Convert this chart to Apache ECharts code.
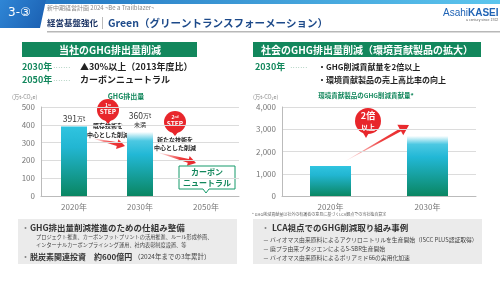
<!DOCTYPE html>
<html><head><meta charset="utf-8">
<script src="https://cdn.jsdelivr.net/npm/echarts@6/dist/echarts.min.js"></script>
<style>html,body{margin:0;padding:0;background:#fff}#c{width:500px;height:281px}</style>
</head><body><div id="c"></div>
<script>
// ---- data ----
const leftCategories = ['2020年', '2030年', '2050年'];
const leftValues = [391, 360, 0];
const leftLabels = ['391', '360', ''];
const leftYTicks = [0, 100, 200, 300, 400, 500];
const rightCategories = ['2020年', '2030年'];
const rightValues = [1350, 2700];
const rightYTicks = [0, 1000, 2000, 3000, 4000];

const F = '"Noto Sans CJK JP","Noto Sans",sans-serif';
const GREEN = '#12875c';
const chart = echarts.init(document.getElementById('c'), null, {renderer: 'canvas'});

function barGrad(fade) {
  const stops = fade
    ? [{offset: 0, color: 'rgba(255,255,255,1)'}, {offset: 0.14, color: '#4cc8e2'}, {offset: 0.35, color: '#22b8d6'}, {offset: 1, color: '#0a8662'}]
    : [{offset: 0, color: '#30c4e0'}, {offset: 0.3, color: '#22b6d2'}, {offset: 1, color: '#0a8662'}];
  return {type: 'linear', x: 0, y: 0, x2: 0, y2: 1, colorStops: stops};
}

const axisLabelStyle = {color: '#777', fontSize: 8, fontFamily: F};

function txt(x, y, t, o) {
  return Object.assign({type: 'text', x: x, y: y, style: Object.assign({text: t, fontFamily: F, fontSize: 9, fill: '#222', textVerticalAlign: 'middle'}, o || {})});
}

function arrow(x1, y1, x2, y2, w, hw, hl) {
  const dx = x2 - x1, dy = y2 - y1, L = Math.hypot(dx, dy);
  const ux = dx / L, uy = dy / L, nx = -uy, ny = ux;
  const bx = x2 - ux * hl, by = y2 - uy * hl;
  const pts = [
    [x1, y1],
    [bx + nx * w / 2, by + ny * w / 2],
    [bx + nx * hw / 2, by + ny * hw / 2],
    [x2, y2],
    [bx - nx * hw / 2, by - ny * hw / 2],
    [bx - nx * w / 2, by - ny * w / 2]
  ];
  return {type: 'polygon', shape: {points: pts}, style: {fill: {type: 'linear', x: x1, y: y1, x2: x2, y2: y2, global: true, colorStops: [{offset: 0, color: 'rgba(240,60,60,0)'}, {offset: 0.6, color: 'rgba(235,40,40,0.9)'}, {offset: 1, color: '#e8262b'}]}}};
}

const graphics = [
  // header
  {type: 'rect', shape: {x: 0, y: 0, width: 500, height: 4}, style: {fill: {type: 'linear', x: 0, y: 0, x2: 1, y2: 0, colorStops: [{offset: 0, color: '#1f6fbf'}, {offset: 1, color: '#5cc6ee'}]}}},
  {type: 'polygon', shape: {points: [[0, 0], [46, 0], [40, 28], [0, 28]]}, style: {fill: {type: 'linear', x: 0, y: 0, x2: 1, y2: 1, colorStops: [{offset: 0, color: '#2f86d6'}, {offset: 1, color: '#1a5eb0'}]}}},
  txt(8, 13, '3-③', {fill: '#fff', fontSize: 12, fontFamily: '"DejaVu Sans",' + F}),
  txt(47, 8, '新中期経営計画 2024 ~Be a Trailblazer~', {fill: '#888', fontSize: 6}),
  txt(47, 23, '経営基盤強化', {fill: '#1d3565', fontSize: 8.5, fontWeight: 'bold'}),
  {type: 'rect', shape: {x: 102, y: 17, width: 0.8, height: 12}, style: {fill: '#aaa'}},
  txt(108, 23, 'Green（グリーントランスフォーメーション）', {fill: '#1d4a8a', fontSize: 10.5, fontWeight: 'bold'}),
  {type: 'rect', shape: {x: 47, y: 31, width: 453, height: 1.5}, style: {fill: '#b8b8b8'}},
  txt(443, 13, 'Asahi', {fill: '#1f63b5', fontSize: 10, fontFamily: '"Liberation Sans",sans-serif'}),
  txt(468, 13, 'KASEI', {fill: '#1f63b5', fontSize: 10, fontWeight: 'bold', fontFamily: '"Liberation Sans",sans-serif'}),
  txt(466, 20, 'a century since 1922', {fill: '#666', fontSize: 3.5, fontFamily: '"Liberation Sans",sans-serif'}),

  // left panel header
  {type: 'rect', shape: {x: 22, y: 42, width: 175, height: 15}, style: {fill: GREEN}},
  txt(110, 50, '当社のGHG排出量削減', {fill: '#fff', fontSize: 10, fontWeight: 'bold', textAlign: 'center'}),
  txt(22, 67, '2030年', {fill: GREEN, fontSize: 9, fontWeight: 'bold'}),
  txt(53, 67, '･･･････', {fill: '#6aa88a', fontSize: 5}),
  txt(80, 67, '▲30%以上（2013年度比）', {fill: '#222', fontSize: 9, fontWeight: 'bold'}),
  txt(22, 80, '2050年', {fill: GREEN, fontSize: 9, fontWeight: 'bold'}),
  txt(53, 80, '･･･････', {fill: '#6aa88a', fontSize: 5}),
  txt(80, 80, 'カーボンニュートラル', {fill: '#222', fontSize: 9, fontWeight: 'bold'}),
  txt(12, 97, '(万t-CO₂e)', {fill: '#888', fontSize: 5.5}),
  txt(126, 96, 'GHG排出量', {fill: GREEN, fontSize: 7, fontWeight: 'bold', textAlign: 'center'}),

  // left annotations
  arrow(91, 138, 125, 146, 4, 10, 8),
  arrow(156, 152, 196, 163, 4, 10, 8),
  {type: 'circle', shape: {cx: 108, cy: 110, r: 11}, style: {fill: '#e8262b'}},
  {type: 'polygon', shape: {points: [[104, 119], [112, 119], [108, 124]]}, style: {fill: '#e8262b'}},
  txt(108, 105, '1ˢᵗ', {fill: '#fff', fontSize: 5, textAlign: 'center', fontWeight: 'bold'}),
  txt(108, 112, 'STEP', {fill: '#fff', fontSize: 6.5, textAlign: 'center', fontWeight: 'bold'}),
  txt(108, 126, '既存技術を', {fill: '#222', fontSize: 6, textAlign: 'center', fontWeight: 'bold'}),
  txt(108, 135, '中心とした削減', {fill: '#222', fontSize: 6, textAlign: 'center', fontWeight: 'bold'}),
  {type: 'circle', shape: {cx: 175, cy: 122, r: 11}, style: {fill: '#e8262b'}},
  {type: 'polygon', shape: {points: [[171, 131], [179, 131], [175, 136]]}, style: {fill: '#e8262b'}},
  txt(175, 117, '2ⁿᵈ', {fill: '#fff', fontSize: 5, textAlign: 'center', fontWeight: 'bold'}),
  txt(175, 124, 'STEP', {fill: '#fff', fontSize: 6.5, textAlign: 'center', fontWeight: 'bold'}),
  txt(175, 140, '新たな技術を', {fill: '#222', fontSize: 6, textAlign: 'center', fontWeight: 'bold'}),
  txt(175, 148, '中心とした削減', {fill: '#222', fontSize: 6, textAlign: 'center', fontWeight: 'bold'}),
  {type: 'polygon', shape: {points: [[179, 166], [235, 166], [235, 189], [209, 189], [206, 193], [203, 189], [179, 189]]}, style: {fill: '#fff', stroke: '#159a6a', lineWidth: 1}},
  txt(207, 172, 'カーボン', {fill: GREEN, fontSize: 8, fontWeight: 'bold', textAlign: 'center'}),
  txt(207, 183, 'ニュートラル', {fill: GREEN, fontSize: 8, fontWeight: 'bold', textAlign: 'center'}),

  // right panel header
  {type: 'rect', shape: {x: 253, y: 42, width: 228, height: 15}, style: {fill: GREEN}},
  txt(367, 50, '社会のGHG排出量削減（環境貢献製品の拡大）', {fill: '#fff', fontSize: 10, fontWeight: 'bold', textAlign: 'center'}),
  txt(255, 67, '2030年', {fill: GREEN, fontSize: 9, fontWeight: 'bold'}),
  txt(290, 67, '･･･････', {fill: '#6aa88a', fontSize: 5}),
  txt(318, 67, '・GHG削減貢献量を2倍以上', {fill: '#222', fontSize: 8, fontWeight: 'bold'}),
  txt(318, 80, '・環境貢献製品の売上高比率の向上', {fill: '#222', fontSize: 8, fontWeight: 'bold'}),
  txt(253, 97, '(万t-CO₂e)', {fill: '#888', fontSize: 5.5}),
  txt(366, 96, '環境貢献製品のGHG削減貢献量*', {fill: GREEN, fontSize: 6.5, fontWeight: 'bold', textAlign: 'center'}),

  // right annotations
  arrow(342, 163, 409, 125, 3, 12, 10),
  {type: 'circle', shape: {cx: 368, cy: 121, r: 13}, style: {fill: '#e8262b'}},
  {type: 'polygon', shape: {points: [[362, 131], [370, 131], [366, 138]]}, style: {fill: '#e8262b'}},
  txt(368, 116, '2倍', {fill: '#fff', fontSize: 9, fontWeight: 'bold', textAlign: 'center'}),
  txt(368, 127, '以上', {fill: '#fff', fontSize: 7, fontWeight: 'bold', textAlign: 'center'}),
  txt(252, 214, '* GHG削減貢献量は社外の有識者の意見に基づくLCA観点での当社独自算定', {fill: '#666', fontSize: 4}),

  // bottom boxes
  {type: 'rect', shape: {x: 18, y: 219, width: 219, height: 45}, style: {fill: '#ebebeb'}},
  txt(21, 228, '・', {fill: '#888', fontSize: 9}),
  txt(30, 228, 'GHG排出量削減推進のための仕組み整備', {fill: '#333', fontSize: 8.5, fontWeight: 'bold'}),
  txt(36, 237, 'プロジェクト推進、カーボンフットプリントの活用推進、ルール形成参画、', {fill: '#444', fontSize: 5.2}),
  txt(36, 245, 'インターナルカーボンプライシング運用、社内表彰制度設置、等', {fill: '#444', fontSize: 5.2}),
  txt(21, 257, '・', {fill: '#888', fontSize: 9}),
  txt(30, 257, '脱炭素関連投資　約600億円', {fill: '#333', fontSize: 8, fontWeight: 'bold'}),
  txt(134, 257, '（2024年までの3年累計）', {fill: '#444', fontSize: 6.5}),

  {type: 'rect', shape: {x: 253, y: 219, width: 229, height: 45}, style: {fill: '#ebebeb'}},
  txt(261, 228, '・', {fill: '#888', fontSize: 9}),
  txt(272, 228, 'LCA視点でのGHG削減取り組み事例', {fill: '#333', fontSize: 8.5, fontWeight: 'bold'}),
  txt(263, 240, '－ バイオマス由来原料によるアクリロニトリルを生産開始（ISCC PLUS認証取得）', {fill: '#444', fontSize: 5.8}),
  txt(263, 249, '－ 廃プラ由来ブタジエンによるS-SBR生産開始', {fill: '#444', fontSize: 5.8}),
  txt(263, 258, '－ バイオマス由来原料によるポリアミド66の実用化加速', {fill: '#444', fontSize: 5.8})
];

const option = {
  animation: false,
  textStyle: {fontFamily: F},
  grid: [
    {left: 41, right: 261, top: 107, bottom: 85, containLabel: false},
    {left: 282, right: 24, top: 107, bottom: 85, containLabel: false}
  ],
  xAxis: [
    {type: 'category', gridIndex: 0, data: leftCategories, axisTick: {show: false},
     axisLine: {lineStyle: {color: '#bbb'}}, axisLabel: Object.assign({margin: 7}, axisLabelStyle)},
    {type: 'category', gridIndex: 1, data: rightCategories, axisTick: {show: false},
     axisLine: {lineStyle: {color: '#bbb'}}, axisLabel: Object.assign({margin: 7}, axisLabelStyle)}
  ],
  yAxis: [
    {type: 'value', gridIndex: 0, min: leftYTicks[0], max: leftYTicks[leftYTicks.length - 1], interval: 100,
     axisLine: {show: true, lineStyle: {color: '#bbb'}}, axisTick: {show: false},
     splitLine: {lineStyle: {color: '#dcdcdc'}}, axisLabel: Object.assign({margin: 6}, axisLabelStyle)},
    {type: 'value', gridIndex: 1, min: rightYTicks[0], max: rightYTicks[rightYTicks.length - 1], interval: 1000,
     axisLine: {show: true, lineStyle: {color: '#bbb'}}, axisTick: {show: false},
     splitLine: {lineStyle: {color: '#dcdcdc'}},
     axisLabel: Object.assign({margin: 6, formatter: v => v.toLocaleString('en-US')}, axisLabelStyle)}
  ],
  series: [
    {type: 'bar', xAxisIndex: 0, yAxisIndex: 0, barWidth: 26,
     data: leftValues.map((v, i) => ({value: v, itemStyle: {color: barGrad(i === 1)}})),
     label: {show: true, position: 'top', distance: 3,
       formatter: p => leftLabels[p.dataIndex] === '' ? '' :
         (p.dataIndex === 1 ? '{n|' + leftLabels[p.dataIndex] + '}{u|万t}\n{s|未満}' : '{n|' + leftLabels[p.dataIndex] + '}{u|万t}'),
       rich: {n: {fontSize: 8.5, color: '#333', fontFamily: F}, u: {fontSize: 6, color: '#333', fontFamily: F}, s: {fontSize: 6, color: '#333', fontFamily: F, align: 'center', lineHeight: 9}}}
    },
    {type: 'bar', xAxisIndex: 1, yAxisIndex: 1, barWidth: 41,
     data: rightValues.map((v, i) => ({value: v, itemStyle: {color: barGrad(i === 1)}}))}
  ],
  graphic: graphics
};
chart.setOption(option);
</script></body></html>
